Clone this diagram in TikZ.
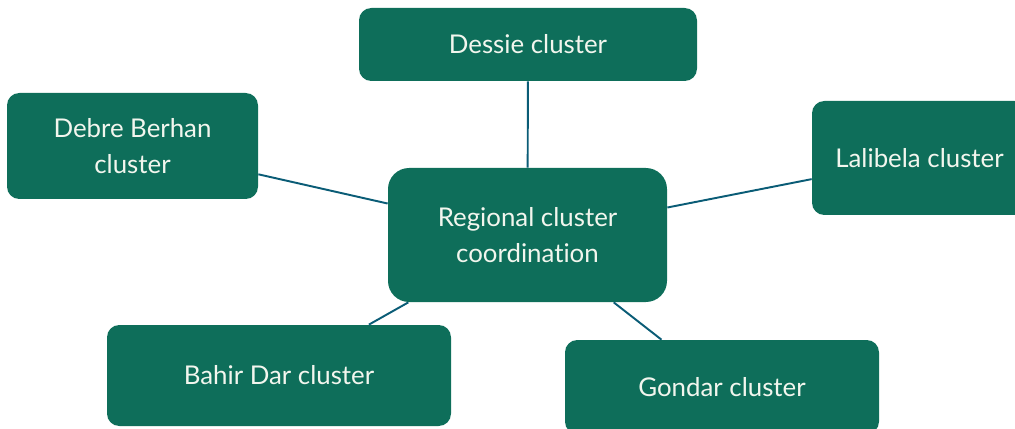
\documentclass[tikz,border=0pt]{standalone}
\usepackage{fontspec}
\setmainfont[Ligatures={NoCommon}]{Lato}
\definecolor{teal1}{RGB}{14, 110, 90}
\definecolor{link1}{RGB}{10, 92, 118}
\definecolor{paper1}{RGB}{242, 246, 238}
\usetikzlibrary{positioning}

\begin{document}
\begin{tikzpicture}[x=0.02cm, y=-0.02cm,
    cluster/.style={fill=teal1, text=paper1, rounded corners=7pt, align=center,
      font=\fontsize{14.7}{20.5}\selectfont, inner sep=0pt},
    link/.style={draw=link1, line width=1.1pt}]
  \useasboundingbox (0,0) rectangle (1015,429);
  \clip (0,0) rectangle (1015,429);
  % hub
  \node[cluster, rounded corners=12pt, minimum width=279*0.02cm, minimum height=134*0.02cm] (hub) at (527.5,235) {Regional cluster\\coordination};
  % surrounding clusters
  \node[cluster, minimum width=338*0.02cm, minimum height=73*0.02cm] (dessie) at (528,44.5) {Dessie cluster};
  \node[cluster, minimum width=251*0.02cm, minimum height=106*0.02cm] (debre) at (132.5,146) {Debre Berhan\\cluster};
  \node[cluster, minimum width=215*0.02cm, minimum height=114*0.02cm] (lalibela) at (919.5,158) {Lalibela cluster};
  \node[cluster, minimum width=344*0.02cm, minimum height=101*0.02cm] (bahir) at (279,375.5) {Bahir Dar cluster};
  \node[cluster, minimum width=314*0.02cm, minimum height=94*0.02cm] (gondar) at (722,387) {Gondar cluster};
  % links
  \draw[link] (hub) -- (dessie);
  \draw[link] (hub) -- (debre);
  \draw[link] (hub) -- (lalibela);
  \draw[link] (hub) -- (bahir);
  \draw[link] (hub) -- (gondar);
\end{tikzpicture}
\end{document}
